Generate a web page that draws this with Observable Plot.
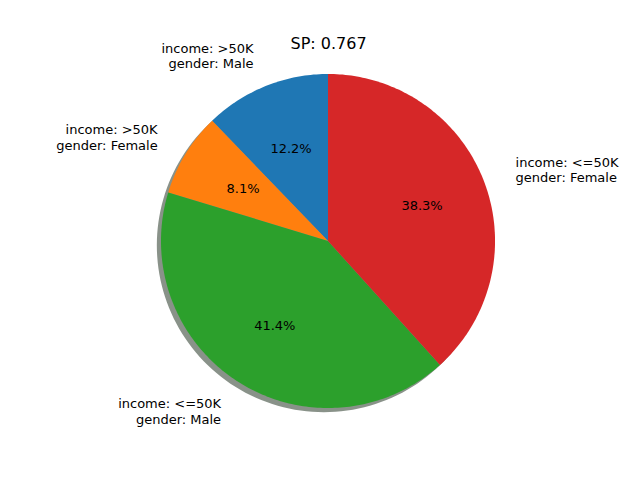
<!DOCTYPE html>
<html><head>
<script src="https://cdn.jsdelivr.net/npm/d3@7"></script>
<script src="https://cdn.jsdelivr.net/npm/@observablehq/plot@0.6"></script>
<style>body{margin:0;background:#fff}</style>
</head><body><div id="chart"></div>
<script>
const labels = ["income: >50K\ngender: Male", "income: >50K\ngender: Female", "income: <=50K\ngender: Male", "income: <=50K\ngender: Female"];
const shares = [12.2, 8.1, 41.4, 38.3];
const colors = ["#1f77b4", "#ff7f0e", "#2ca02c", "#d62728"];
const title = "SP: 0.767";

const total = d3.sum(shares);
const rad = Math.PI / 180;
let start = 90;
const wedges = [], slices = [];
shares.forEach((s, i) => {
  const sweep = s / total * 360;
  const n = Math.max(4, Math.ceil(sweep));
  for (let k = 0; k <= n; k++) {
    const a = (start + sweep * k / n) * rad;
    wedges.push({i, x: Math.cos(a), y: Math.sin(a)});
  }
  const mid = (start + sweep / 2) * rad;
  slices.push({i, label: labels[i], pct: s.toFixed(1) + "%", mx: Math.cos(mid), my: Math.sin(mid)});
  start += sweep;
});
const shadow = d3.range(0, 361, 2).map(d => ({x: Math.cos(d * rad) - 0.025, y: Math.sin(d * rad) - 0.025}));
const labelOpts = {x: d => 1.2 * d.mx, y: d => 1.2 * d.my, text: "label", fill: "#000", lineHeight: 1.2};

const chart = Plot.plot({
  width: 640, height: 480,
  margin: 0,
  x: {domain: [-1.964, 1.868], axis: null},
  y: {domain: [-1.431, 1.443], axis: null},
  style: {fontFamily: "DejaVu Sans", fontSize: "13px"},
  marks: [
    Plot.area(shadow, {x1: "x", y1: "y", x2: -0.025, y2: -0.025, fill: "#3a4a3a", fillOpacity: 0.6, curve: "linear"}),
    Plot.area(wedges, {x1: "x", y1: "y", x2: 0, y2: 0, z: "i", fill: d => colors[d.i], curve: "linear"}),
    Plot.text(slices, {x: d => 0.6 * d.mx, y: d => 0.6 * d.my, text: "pct", fill: "#000"}),
    Plot.text(slices.filter(d => d.mx < 0), {...labelOpts, textAnchor: "end"}),
    Plot.text(slices.filter(d => d.mx >= 0), {...labelOpts, textAnchor: "start"}),
    Plot.text([title], {x: 0, y: 1.185, text: d => d, fontSize: 16, fill: "#000"})
  ]
});
document.getElementById("chart").append(chart);
</script>
</body></html>
